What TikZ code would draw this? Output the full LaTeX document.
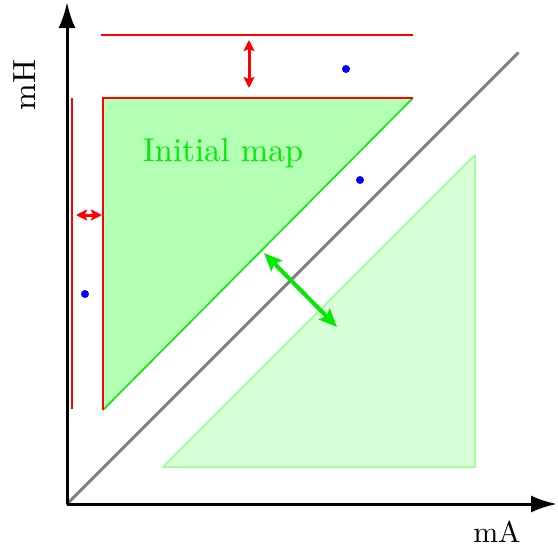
\documentclass[tikz,border=0pt]{standalone}
\usetikzlibrary{arrows.meta}
\definecolor{mapfill}{RGB}{179,255,179}
\definecolor{lightfill}{RGB}{217,255,217}
\definecolor{lightedge}{RGB}{150,255,150}
\definecolor{pureGreen}{RGB}{0,235,0}
\tikzset{
  axis/.style={line width=3pt,-{Latex[length=26pt,width=17pt]}},
  redline/.style={red,line width=2.2pt},
  redarrow/.style={red,line width=3pt,{Stealth[length=11pt,width=11pt,inset=2pt]}-{Stealth[length=11pt,width=11pt,inset=2pt]}},
  greenarrow/.style={pureGreen,line width=4pt,{Stealth[length=18pt,width=15pt,inset=3pt]}-{Stealth[length=18pt,width=15pt,inset=3pt]}},
  dot/.style={circle,fill=blue,inner sep=0pt,minimum size=8pt},
  lbl/.style={scale=3}
}
\begin{document}
\begin{tikzpicture}[x=1pt,y=-1pt]
\useasboundingbox (0,0) rectangle (558,550);
% coordinates
\coordinate (O) at (67,504);
\coordinate (ytop) at (67,2);
\coordinate (xend) at (557,504);
\coordinate (dend) at (518,53);
\coordinate (tl) at (103,98);
\coordinate (tr) at (413,98);
\coordinate (bl) at (103,410);
\coordinate (lt) at (475,155);
\coordinate (lbr) at (475,467);
\coordinate (lbl) at (163,467);
% light triangle
\fill[lightfill] (lt) -- (lbr) -- (lbl) -- cycle;
\draw[lightedge,line width=1.5pt,line join=round] (lt) -- (lbr) -- (lbl) -- cycle;
% initial map triangle
\fill[mapfill] (tl) -- (tr) -- (bl) -- cycle;
\draw[pureGreen,line width=1.5pt] (tr) -- (bl);
\draw[redline,line join=miter] (tr) -- (tl) -- (bl);
% diagonal
\draw[gray,line width=3pt,line cap=round] (O) -- (dend);
% axes
\draw[axis] (O) -- (ytop);
\draw[axis] (O) -- (xend);
% red boundary lines
\coordinate (rt1) at (101,35);
\coordinate (rt2) at (413,35);
\coordinate (rl1) at (72,98);
\coordinate (rl2) at (72,409);
\draw[redline] (rt1) -- (rt2);
\draw[redline] (rl1) -- (rl2);
% red arrows
\coordinate (va1) at (249,40);
\coordinate (va2) at (249,88);
\coordinate (ha1) at (76,215);
\coordinate (ha2) at (102,215);
\draw[redarrow] (va1) -- (va2);
\draw[redarrow] (ha1) -- (ha2);
% green arrow
\coordinate (ga1) at (264,253);
\coordinate (ga2) at (337,327);
\draw[greenarrow] (ga1) -- (ga2);
% dots
\node[dot] (d1) at (346,69) {};
\node[dot] (d2) at (360,180) {};
\node[dot] (d3) at (85,294) {};
% labels
\node[scale=3.3,text=pureGreen] (im) at (223,153) {Initial map};
\node[lbl] (ma) at (497,532) {mA};
\node[scale=3.2,rotate=90] (mh) at (25,85) {mH};
\end{tikzpicture}
\end{document}
